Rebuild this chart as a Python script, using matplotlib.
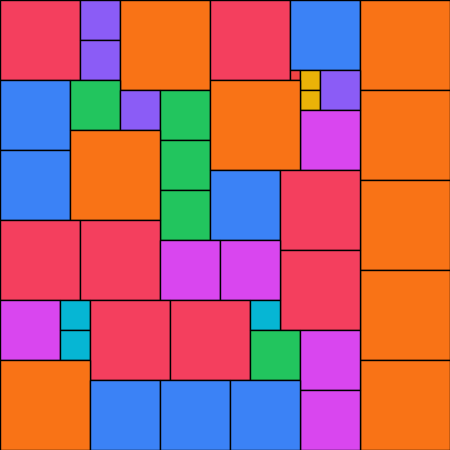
import matplotlib
matplotlib.use("Agg")
import matplotlib.pyplot as plt
from matplotlib.patches import Rectangle

# square packing: left, top, side, colour key
xs = [0, 80, 80, 120, 210, 290, 360, 360, 360, 360, 360,
      290, 300, 300, 320, 300,
      0, 0, 70, 120, 160, 160, 160, 70, 210, 210, 280, 280,
      0, 80, 160, 220, 0, 60, 60, 90, 170, 250, 250, 300, 300,
      0, 90, 160, 230]
ys = [0, 0, 40, 0, 0, 0, 0, 90, 180, 270, 360,
      70, 70, 90, 70, 110,
      80, 150, 80, 90, 90, 140, 190, 130, 80, 170, 170, 250,
      220, 220, 240, 240, 300, 300, 330, 300, 300, 300, 330, 330, 390,
      360, 380, 380, 380]
sizes = [80, 40, 40, 90, 80, 70, 90, 90, 90, 90, 90,
         10, 20, 20, 40, 60,
         70, 70, 50, 40, 50, 50, 50, 90, 90, 70, 80, 80,
         80, 80, 60, 60, 60, 30, 30, 80, 80, 30, 50, 60, 60,
         90, 70, 70, 70]
kinds = ["rose", "violet", "violet", "orange", "rose", "blue", "orange", "orange", "orange", "orange", "orange",
         "red", "amber", "amber", "violet", "fuchsia",
         "blue", "blue", "green", "violet", "green", "green", "green", "orange", "orange", "blue", "rose", "rose",
         "rose", "rose", "fuchsia", "fuchsia", "fuchsia", "cyan", "cyan", "rose", "rose", "cyan", "green", "fuchsia", "fuchsia",
         "orange", "blue", "blue", "blue"]

palette = {"rose": "#f43f5e", "red": "#ef4444", "violet": "#8b5cf6", "orange": "#f97316",
           "blue": "#3b82f6", "green": "#22c55e", "amber": "#eab308",
           "fuchsia": "#d946ef", "cyan": "#06b6d4"}

fig = plt.figure(figsize=(4.5, 4.5), dpi=100)
ax = fig.add_axes([0, 0, 1, 1])
for x, y, s, k in zip(xs, ys, sizes, kinds):
    ax.add_patch(Rectangle((x, y), s, s, facecolor=palette[k], edgecolor="black", linewidth=1))
ax.set_xlim(0, 450)
ax.set_ylim(450, 0)
ax.axis("off")
fig.savefig("out.png", dpi=100)
